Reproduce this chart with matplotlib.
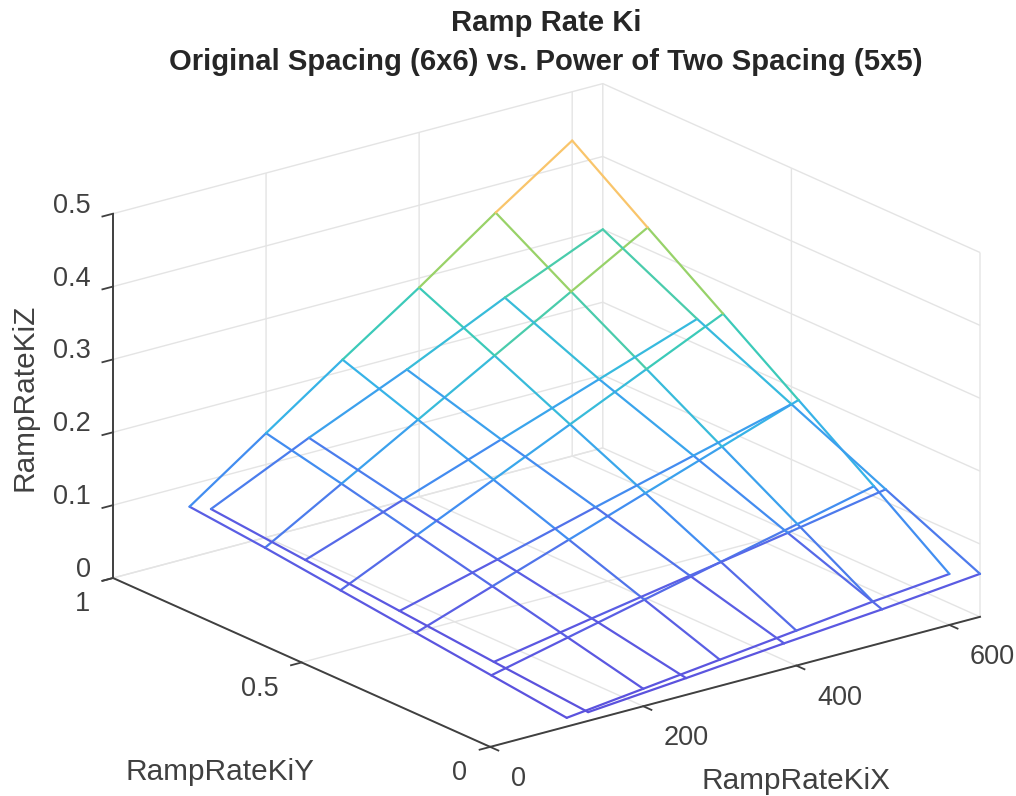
import matplotlib
matplotlib.use('Agg')
import matplotlib.pyplot as plt
from matplotlib.colors import LinearSegmentedColormap
from mpl_toolkits.mplot3d import proj3d

plt.rcParams['font.family'] = ['Liberation Sans', 'DejaVu Sans']

# Original spacing (6x6)
x_orig = [100, 200, 300, 400, 500, 600]
y_orig = [0, 0.2, 0.4, 0.6, 0.8, 1]
z_orig = [
    [0.012, 0.024, 0.036, 0.048, 0.060, 0.070],
    [0.024, 0.048, 0.072, 0.096, 0.120, 0.144],
    [0.036, 0.072, 0.108, 0.144, 0.180, 0.216],
    [0.048, 0.096, 0.144, 0.192, 0.240, 0.288],
    [0.060, 0.120, 0.180, 0.240, 0.300, 0.360],
    [0.070, 0.143, 0.216, 0.287, 0.362, 0.433],
]
# Power of two spacing (5x5)
x_pow2 = [128, 256, 384, 512, 640]
y_pow2 = [0, 0.25, 0.5, 0.75, 1]
z_pow2 = [
    [0.012, 0.023, 0.035, 0.046, 0.059],
    [0.023, 0.047, 0.070, 0.093, 0.117],
    [0.035, 0.070, 0.106, 0.141, 0.176],
    [0.047, 0.094, 0.141, 0.188, 0.235],
    [0.059, 0.121, 0.179, 0.242, 0.300],
]
x_ticks = [0, 200, 400, 600]
y_ticks = [0, 0.5, 1]
y_tick_labels = ['0', '0.5', '1']
z_ticks = [0, 0.1, 0.2, 0.3, 0.4, 0.5]
z_tick_labels = ['0', '0.1', '0.2', '0.3', '0.4', '0.5']

W, H = 1016, 796
fig = plt.figure(figsize=(W / 100, H / 100), dpi=100)
ax = fig.add_axes([0.05, 0.05, 0.9, 0.9], projection='3d', proj_type='ortho')
ax.view_init(elev=20.17, azim=-127.6)
ax.set_box_aspect((618, 618, 388))
ax.set_xlim(0, 640, view_margin=0)
ax.set_ylim(0, 1, view_margin=0)
ax.set_zlim(0, 0.5, view_margin=0)

cmap = LinearSegmentedColormap.from_list('parula_soft', [
    (0.00, '#5B4FDC'), (0.17, '#5A62E6'), (0.33, '#3F93F2'), (0.50, '#36B6E6'),
    (0.66, '#3CCBB8'), (0.83, '#98D268'), (1.00, '#F9C56B')])
zmin, zmax = 0.012, 0.433


def draw_mesh(xs, ys, zs):
    for j, yv in enumerate(ys):
        for i, xv in enumerate(xs):
            if i + 1 < len(xs):
                top = max(zs[j][i], zs[j][i + 1])
                ax.plot([xv, xs[i + 1]], [yv, yv], [zs[j][i], zs[j][i + 1]], lw=1.6,
                        color=cmap((top - zmin) / (zmax - zmin)), solid_capstyle='round')
            if j + 1 < len(ys):
                top = max(zs[j][i], zs[j + 1][i])
                ax.plot([xv, xv], [yv, ys[j + 1]], [zs[j][i], zs[j + 1][i]], lw=1.6,
                        color=cmap((top - zmin) / (zmax - zmin)), solid_capstyle='round')


draw_mesh(x_orig, y_orig, z_orig)
draw_mesh(x_pow2, y_pow2, z_pow2)

ax.set_xticks(x_ticks)
ax.set_yticks(y_ticks, labels=y_tick_labels)
ax.set_zticks(z_ticks, labels=z_tick_labels)
for axis in (ax.xaxis, ax.yaxis, ax.zaxis):
    axis.set_pane_color((1, 1, 1, 0))
    axis.pane.set_edgecolor('#dedede')
    axis.pane.set_linewidth(1.0)
    axis.line.set_color('#404040')
    axis.line.set_linewidth(1.4)
    axis._axinfo['grid'].update(color='#e4e4e4', linewidth=1.0)
    axis._axinfo['tick'].update(inward_factor=0.27, outward_factor=0.0, linewidth={True: 1.3, False: 0.5}, color='#404040')
ax.tick_params(axis='both', labelsize=19.5, labelcolor='#404040', colors='#404040')
ax.tick_params(axis='x', pad=11)
ax.tick_params(axis='y', pad=8.5)
ax.tick_params(axis='z', pad=1)

# fit the axes box so the cube lands on the reference frame
targets = [((0, 1, 0), (113, 578)), ((640, 0, 0), (980, 617)), ((640, 1, 0.5), (604, 84))]


def px(p):
    a, b, _ = proj3d.proj_transform(p[0], p[1], p[2], ax.get_proj())
    return ax.transData.transform((a, b))


side = 0.9 * H
x0, y0 = 100.0, 40.0
for _ in range(4):
    ax.set_position([x0 / W, y0 / H, side / W, side / H])
    fig.canvas.draw()
    a = px(targets[0][0])
    b = px(targets[1][0])
    r = (targets[1][1][0] - targets[0][1][0]) / (b[0] - a[0])
    side *= r
    ax.set_position([x0 / W, y0 / H, side / W, side / H])
    fig.canvas.draw()
    a = px(targets[0][0])
    x0 += targets[0][1][0] - a[0]
    y0 += (H - targets[0][1][1]) - a[1]
ax.set_position([x0 / W, y0 / H, side / W, side / H])

for t in ax.xaxis.get_major_ticks():
    t.label1.set_ha('left')
    t.label1.set_va('center_baseline')
for t in ax.yaxis.get_major_ticks():
    t.label1.set_ha('right')
    t.label1.set_va('center_baseline')
for t in ax.zaxis.get_major_ticks():
    t.label1.set_ha('right')
    t.label1.set_va('baseline')

fig.text(546 / W, 1 - 42.5 / H, 'Ramp Rate Ki\nOriginal Spacing (6x6) vs. Power of Two Spacing (5x5)',
         ha='center', va='center', fontsize=21.1, fontweight='bold', color='#262626', linespacing=1.46)
fig.text(796 / W, 1 - 781 / H, 'RampRateKiX', ha='center', va='center', fontsize=21.4, color='#404040')
fig.text(220 / W, 1 - 772 / H, 'RampRateKiY', ha='center', va='center', fontsize=21.4, color='#404040')
fig.text(25 / W, 1 - 397 / H, 'RampRateKiZ', ha='center', va='center', rotation=90, fontsize=21.4, color='#404040')

fig.savefig('out.png', dpi=100)
